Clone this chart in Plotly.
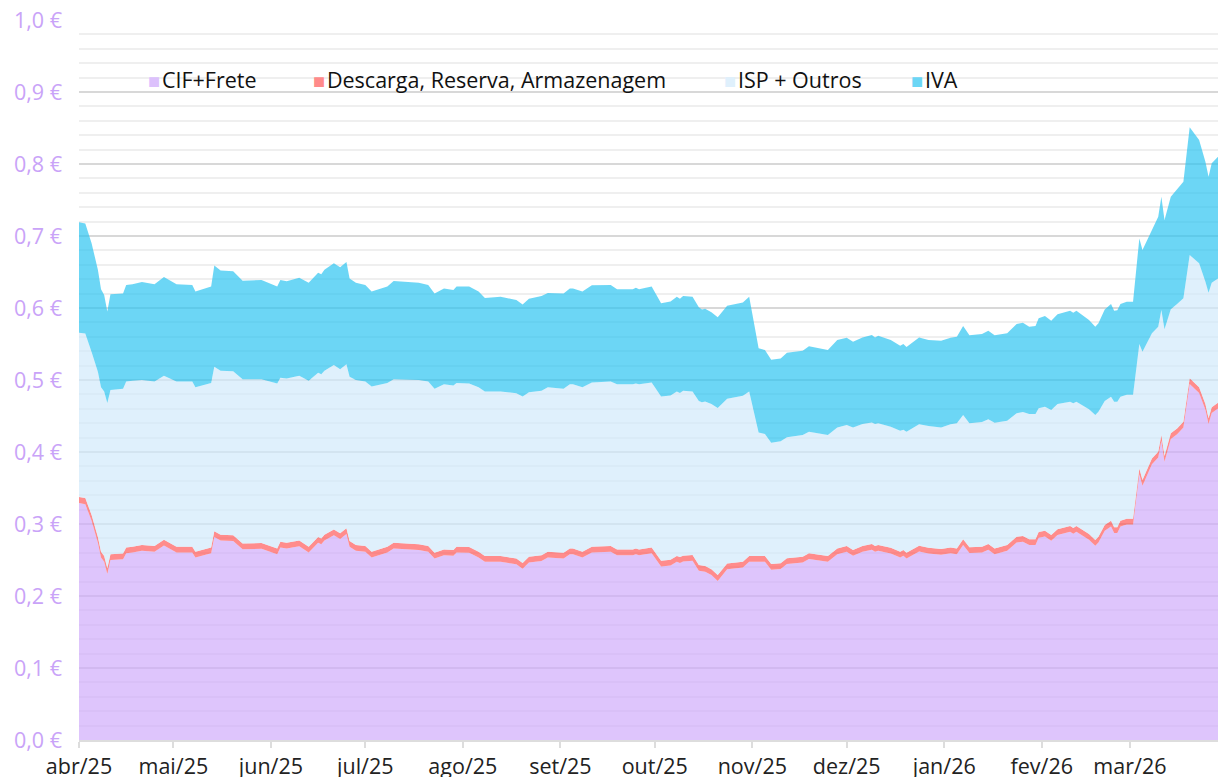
import plotly.graph_objects as go

# ---------------- data ----------------
datas = [
    "2025-04-01","2025-04-03","2025-04-05","2025-04-07","2025-04-08","2025-04-09","2025-04-10","2025-04-11","2025-04-15","2025-04-16","2025-04-18","2025-04-21","2025-04-25","2025-04-28",
    "2025-05-02","2025-05-07","2025-05-08","2025-05-13","2025-05-14","2025-05-16","2025-05-20","2025-05-23","2025-05-29",
    "2025-06-03","2025-06-04","2025-06-06","2025-06-10","2025-06-13","2025-06-16","2025-06-17","2025-06-18","2025-06-21","2025-06-23","2025-06-25","2025-06-26","2025-06-28",
    "2025-07-01","2025-07-03","2025-07-08","2025-07-10","2025-07-18","2025-07-21","2025-07-23","2025-07-26","2025-07-29","2025-07-30",
    "2025-08-03","2025-08-06","2025-08-08","2025-08-13","2025-08-18","2025-08-20","2025-08-22","2025-08-26","2025-08-28",
    "2025-09-02","2025-09-04","2025-09-05","2025-09-08","2025-09-11","2025-09-17","2025-09-19","2025-09-24","2025-09-25","2025-09-26","2025-09-30",
    "2025-10-03","2025-10-06","2025-10-08","2025-10-09","2025-10-10","2025-10-13","2025-10-15","2025-10-16","2025-10-17","2025-10-19","2025-10-21","2025-10-24","2025-10-29","2025-10-31",
    "2025-11-03","2025-11-05","2025-11-07","2025-11-10","2025-11-12","2025-11-17","2025-11-19","2025-11-22","2025-11-25","2025-11-28",
    "2025-12-01","2025-12-03","2025-12-06","2025-12-09","2025-12-10","2025-12-11","2025-12-15","2025-12-18","2025-12-19","2025-12-20","2025-12-22","2025-12-24","2025-12-27","2025-12-31",
    "2026-01-03","2026-01-05","2026-01-07","2026-01-09","2026-01-13","2026-01-15","2026-01-17","2026-01-19","2026-01-21","2026-01-24","2026-01-26","2026-01-28","2026-01-30","2026-01-31",
    "2026-02-02","2026-02-04","2026-02-06","2026-02-10","2026-02-11","2026-02-12","2026-02-16","2026-02-18","2026-02-19","2026-02-21","2026-02-23","2026-02-24","2026-02-25","2026-02-26","2026-02-28",
    "2026-03-02","2026-03-03","2026-03-04","2026-03-05","2026-03-07","2026-03-08","2026-03-10","2026-03-11","2026-03-12","2026-03-14","2026-03-16","2026-03-18","2026-03-20","2026-03-23","2026-03-25","2026-03-26","2026-03-27","2026-03-29",
]

cif_frete = [
    0.329, 0.3275, 0.3045, 0.274, 0.2535, 0.2475, 0.2305, 0.250, 0.251, 0.2595, 0.2605, 0.263, 0.2615, 0.270,
    0.2605, 0.2605, 0.2535, 0.2595, 0.282, 0.277, 0.2765, 0.265, 0.2655,
    0.258, 0.2675, 0.266, 0.269, 0.2605, 0.274, 0.272, 0.277, 0.2845, 0.279, 0.286, 0.2685, 0.263,
    0.2615, 0.2535, 0.2605, 0.266, 0.264, 0.2615, 0.252, 0.2565, 0.256, 0.2605,
    0.260, 0.2535, 0.2475, 0.2475, 0.244, 0.238, 0.2465, 0.2485, 0.2535,
    0.252, 0.258, 0.258, 0.2535, 0.2605, 0.2615, 0.2565, 0.2565, 0.258, 0.2565, 0.2595,
    0.241, 0.2425, 0.2475, 0.246, 0.248, 0.249, 0.235, 0.234, 0.2337, 0.229, 0.221, 0.237, 0.2397, 0.2475,
    0.2475, 0.2475, 0.2364, 0.2374, 0.2443, 0.2466, 0.2513, 0.249, 0.2476, 0.258,
    0.2614, 0.2559, 0.2614, 0.2642, 0.2614, 0.2628, 0.259, 0.2536, 0.256, 0.252, 0.257, 0.2619, 0.259, 0.2573,
    0.2595, 0.258, 0.2707, 0.2596, 0.2605, 0.2642, 0.258, 0.2605, 0.2628, 0.2744, 0.2753, 0.2707, 0.2707, 0.2809,
    0.2827, 0.2767, 0.2846, 0.2892, 0.2864, 0.2892, 0.2781, 0.2698, 0.2744, 0.2906, 0.2966, 0.2874, 0.2874, 0.2966, 0.2994,
    0.2994, 0.3346, 0.369, 0.353, 0.374, 0.383, 0.3925, 0.4156, 0.3864, 0.4179, 0.4248, 0.4341, 0.4943, 0.4818, 0.4587, 0.4388, 0.454, 0.4605,
]

descarga = [
    0.0085, 0.0085, 0.008, 0.008, 0.008, 0.008, 0.008, 0.008, 0.008, 0.008, 0.008, 0.008, 0.008, 0.008,
    0.008, 0.008, 0.008, 0.008, 0.008, 0.008, 0.008, 0.008, 0.008,
    0.008, 0.008, 0.008, 0.008, 0.008, 0.008, 0.008, 0.008, 0.008, 0.008, 0.008, 0.008, 0.008,
    0.008, 0.008, 0.008, 0.008, 0.008, 0.008, 0.008, 0.008, 0.008, 0.008,
    0.008, 0.008, 0.008, 0.008, 0.008, 0.008, 0.008, 0.008, 0.008,
    0.008, 0.008, 0.008, 0.008, 0.008, 0.008, 0.008, 0.008, 0.008, 0.008, 0.008,
    0.008, 0.008, 0.008, 0.008, 0.008, 0.008, 0.008, 0.008, 0.008, 0.008, 0.008, 0.008, 0.008, 0.008,
    0.008, 0.008, 0.008, 0.008, 0.008, 0.008, 0.008, 0.008, 0.008, 0.008,
    0.008, 0.008, 0.008, 0.008, 0.008, 0.008, 0.008, 0.008, 0.008, 0.008, 0.008, 0.008, 0.008, 0.008,
    0.008, 0.008, 0.008, 0.008, 0.008, 0.008, 0.008, 0.008, 0.008, 0.008, 0.008, 0.008, 0.008, 0.008,
    0.008, 0.008, 0.008, 0.008, 0.008, 0.008, 0.008, 0.008, 0.008, 0.008, 0.008, 0.008, 0.008, 0.008, 0.008,
    0.008, 0.008, 0.008, 0.008, 0.008, 0.008, 0.008, 0.008, 0.008, 0.008, 0.008, 0.008, 0.008, 0.008, 0.008, 0.008, 0.008, 0.008,
]

isp_outros = [
    0.228, 0.2285, 0.2265, 0.2295, 0.2285, 0.2285, 0.2295, 0.228, 0.229, 0.2305, 0.2305, 0.229, 0.2285, 0.228,
    0.2295, 0.2295, 0.2285, 0.2285, 0.2285, 0.228, 0.2275, 0.228, 0.2275,
    0.229, 0.2275, 0.228, 0.229, 0.2305, 0.228, 0.228, 0.228, 0.2285, 0.228, 0.228, 0.228, 0.229,
    0.2285, 0.2295, 0.2275, 0.227, 0.228, 0.2285, 0.228, 0.2295, 0.2285, 0.2275,
    0.227, 0.2285, 0.2285, 0.2285, 0.2295, 0.231, 0.2285, 0.2285, 0.2285,
    0.228, 0.228, 0.228, 0.2285, 0.228, 0.2285, 0.2295, 0.2295, 0.229, 0.2295, 0.229,
    0.228, 0.228, 0.2285, 0.228, 0.229, 0.227, 0.228, 0.227, 0.2283, 0.2297, 0.232, 0.229, 0.2303, 0.2285,
    0.1715, 0.1695, 0.1686, 0.1696, 0.1681, 0.169, 0.1687, 0.169, 0.168, 0.168,
    0.1681, 0.1701, 0.1696, 0.1688, 0.1696, 0.169, 0.168, 0.168, 0.167, 0.168, 0.168, 0.1685, 0.169, 0.1687,
    0.1709, 0.1738, 0.1727, 0.1722, 0.1732, 0.1732, 0.1747, 0.1735, 0.1727, 0.1713, 0.1723, 0.1741, 0.1741, 0.1717,
    0.1723, 0.1736, 0.1741, 0.1727, 0.1732, 0.1727, 0.1732, 0.1736, 0.1736, 0.1722, 0.1722, 0.1745, 0.1745, 0.1722, 0.1722,
    0.1722, 0.1759, 0.173, 0.1784, 0.1745, 0.174, 0.1735, 0.1736, 0.176, 0.1723, 0.1728, 0.1713, 0.1713, 0.1722, 0.1699, 0.1745, 0.173, 0.1725,
]

iva = [
    0.1535, 0.153, 0.151, 0.1415, 0.136, 0.134, 0.127, 0.133, 0.132, 0.134, 0.134, 0.136, 0.135, 0.137,
    0.135, 0.134, 0.133, 0.134, 0.1405, 0.139, 0.139, 0.137, 0.138,
    0.135, 0.136, 0.135, 0.136, 0.136, 0.139, 0.139, 0.140, 0.141, 0.1415, 0.142, 0.1365, 0.135,
    0.134, 0.132, 0.134, 0.1365, 0.135, 0.134, 0.132, 0.133, 0.1325, 0.134,
    0.135, 0.133, 0.130, 0.1315, 0.1295, 0.128, 0.130, 0.1315, 0.131,
    0.132, 0.133, 0.133, 0.133, 0.135, 0.134, 0.132, 0.132, 0.133, 0.132, 0.1335,
    0.1295, 0.1305, 0.1317, 0.131, 0.1315, 0.1317, 0.130, 0.129, 0.129, 0.1273, 0.126, 0.129, 0.1295, 0.1317,
    0.117, 0.1167, 0.115, 0.115, 0.1176, 0.1171, 0.119, 0.118, 0.1181, 0.1216,
    0.1213, 0.119, 0.120, 0.1215, 0.120, 0.1217, 0.1206, 0.118, 0.119, 0.118, 0.119, 0.1206, 0.1196, 0.1206,
    0.1204, 0.1202, 0.1236, 0.1222, 0.1223, 0.1231, 0.1213, 0.121, 0.1213, 0.1241, 0.124, 0.1212, 0.1222, 0.125,
    0.1259, 0.1241, 0.1245, 0.1264, 0.1259, 0.1264, 0.124, 0.1226, 0.1227, 0.1272, 0.1288, 0.1264, 0.1271, 0.1288, 0.1292,
    0.1292, 0.1343, 0.1467, 0.1412, 0.1425, 0.1456, 0.1528, 0.1574, 0.1518, 0.1564, 0.1592, 0.1621, 0.1773, 0.1713, 0.1666, 0.1611, 0.166, 0.169,
]

series_names = ["CIF+Frete", "Descarga, Reserva, Armazenagem", "ISP + Outros", "IVA"]

month_ticks = ["2025-04-01", "2025-05-01", "2025-06-01", "2025-07-01", "2025-08-01", "2025-09-01",
               "2025-10-01", "2025-11-01", "2025-12-01", "2026-01-01", "2026-02-01", "2026-03-01"]
month_labels = ["abr/25", "mai/25", "jun/25", "jul/25", "ago/25", "set/25",
                "out/25", "nov/25", "dez/25", "jan/26", "fev/26", "mar/26"]

# ---------------- styling ----------------
FONT = "Open Sans"
FSIZE = 21.5
fill_colors = ["rgba(208,172,251,0.7)", "rgba(255,91,91,0.7)",
               "rgba(209,234,251,0.7)", "rgba(46,196,241,0.7)"]
legend_colors = ["#dcc1fc", "#ff8a8a", "#dff0fc", "#6bd6f5"]

fig = go.Figure()
for name, vals, fc in zip(series_names, [cif_frete, descarga, isp_outros, iva], fill_colors):
    fig.add_trace(go.Scatter(
        x=datas, y=vals, name=name, mode="lines", stackgroup="one",
        line=dict(width=0), fillcolor=fc, showlegend=False,
        hovertemplate="%{x}<br>" + name + ": %{y:.3f} €<extra></extra>",
    ))

# legend drawn as text items across the top of the plot
legend_x = [0.0588, 0.2037, 0.5645, 0.7287]
for name, col, lx in zip(series_names, legend_colors, legend_x):
    fig.add_annotation(
        xref="paper", yref="paper", x=lx, y=0.918, xanchor="left", yanchor="middle",
        text=(f"<span style='color:{col};font-size:20px'>■</span>"
              f"<span style='font-size:7px'> </span>{name}"),
        showarrow=False, font=dict(family=FONT, size=FSIZE, color="#111111"),
    )

fig.update_layout(
    width=1218, height=777,
    margin=dict(l=79, r=0, t=20, b=37, autoexpand=False),
    paper_bgcolor="white", plot_bgcolor="white",
    separators=",.",
    font=dict(family=FONT, size=FSIZE, color="#222222"),
    showlegend=False,
    hovermode="x unified",
)

fig.update_xaxes(
    type="date", range=["2025-04-01", "2026-03-29"], automargin=False,
    tickmode="array", tickvals=month_ticks, ticktext=month_labels,
    ticks="outside", ticklen=6, tickwidth=2, tickcolor="#dddddd",
    showline=True, linecolor="#dddddd", linewidth=2,
    showgrid=False, zeroline=False,
    tickfont=dict(family=FONT, size=FSIZE, color="#222222"),
)

fig.update_yaxes(
    range=[0, 1.0], dtick=0.1, tick0=0, tickformat=".1f", ticksuffix=" €", automargin=False,
    showgrid=True, gridcolor="#d8d8d8", gridwidth=2,
    minor=dict(dtick=0.02, showgrid=True, gridcolor="#efefef", gridwidth=2),
    zeroline=False, showline=False, ticks="",
    ticklabelstandoff=16,
    tickfont=dict(family=FONT, size=FSIZE, color="#c9a3f8"),
)

fig.write_html("out.html", config={"displayModeBar": False},
               post_script="document.body.style.margin='0';")
